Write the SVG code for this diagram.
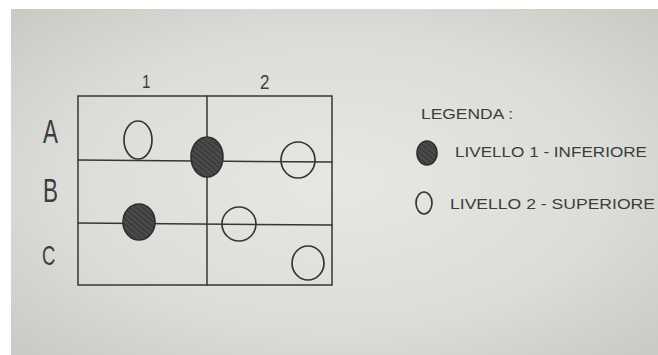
<svg xmlns="http://www.w3.org/2000/svg" width="658" height="355" viewBox="0 0 658 355">
  <defs>
    <radialGradient id="paper" cx="0.5" cy="0.5" r="0.7">
      <stop offset="0" stop-color="#e7e7e3"/>
      <stop offset="0.6" stop-color="#dcddd8"/>
      <stop offset="1" stop-color="#c9cac4"/>
    </radialGradient>
    <pattern id="hatch" width="4" height="4" patternUnits="userSpaceOnUse" patternTransform="rotate(-50)">
      <rect width="4" height="4" fill="#4a4a4a"/>
      <line x1="0" y1="0" x2="0" y2="4" stroke="#2e2e2e" stroke-width="1.6"/>
    </pattern>
  </defs>
  <style>
    .ink { fill: none; stroke: #363636; stroke-width: 1.5; stroke-linecap: round; }
    .open { fill: none; stroke: #363636; stroke-width: 1.7; }
    .filled { fill: url(#hatch); stroke: #2e2e2e; stroke-width: 1.6; }
    .lbl { font-family: "Liberation Sans", Arial, sans-serif; fill: #3c3c3c; }
    .leg { font-family: "Liberation Sans", Arial, sans-serif; fill: #3c3c3c; font-size: 15px; }
  </style>
  <rect x="0" y="0" width="658" height="355" fill="#ffffff"/>
  <rect x="11" y="9" width="647" height="346" fill="url(#paper)"/>

  <g id="grid">
    <rect class="ink" x="78" y="96" width="254" height="189"/>
    <line class="ink" x1="207" y1="96" x2="207" y2="285"/>
    <line class="ink" x1="78" y1="160" x2="332" y2="162"/>
    <line class="ink" x1="78" y1="223" x2="332" y2="225"/>
  </g>

  <g id="labels">
    <text class="lbl" transform="translate(142,88) scale(0.8,1)" font-size="19">1</text>
    <text class="lbl" transform="translate(260,89) scale(0.85,1)" font-size="20">2</text>
    <text class="lbl" transform="translate(43,143) scale(0.68,1)" font-size="33">A</text>
    <text class="lbl" transform="translate(43,202) scale(0.68,1)" font-size="33">B</text>
    <text class="lbl" transform="translate(42,265) scale(0.66,1)" font-size="28">C</text>
  </g>

  <g id="node-a1"><ellipse class="open" cx="138" cy="140" rx="14" ry="19"/></g>
  <g id="node-ab-mid"><ellipse class="filled" cx="207" cy="157" rx="16" ry="20"/></g>
  <g id="node-a2"><ellipse class="open" cx="298" cy="160" rx="17" ry="18"/></g>
  <g id="node-bc1"><ellipse class="filled" cx="139" cy="222" rx="16" ry="18"/></g>
  <g id="node-bc2"><ellipse class="open" cx="239" cy="224" rx="17" ry="17"/></g>
  <g id="node-c2"><ellipse class="open" cx="308" cy="263" rx="16" ry="17"/></g>

  <g id="legend">
    <text class="leg" x="421" y="119" textLength="92" lengthAdjust="spacingAndGlyphs">LEGENDA :</text>
    <ellipse class="filled" cx="427" cy="153" rx="10" ry="12"/>
    <text class="leg" x="455" y="157" textLength="192" lengthAdjust="spacingAndGlyphs">LIVELLO 1 - INFERIORE</text>
    <ellipse class="open" cx="424" cy="203" rx="8" ry="11"/>
    <text class="leg" x="450" y="209" textLength="205" lengthAdjust="spacingAndGlyphs">LIVELLO 2 - SUPERIORE</text>
  </g>
</svg>
